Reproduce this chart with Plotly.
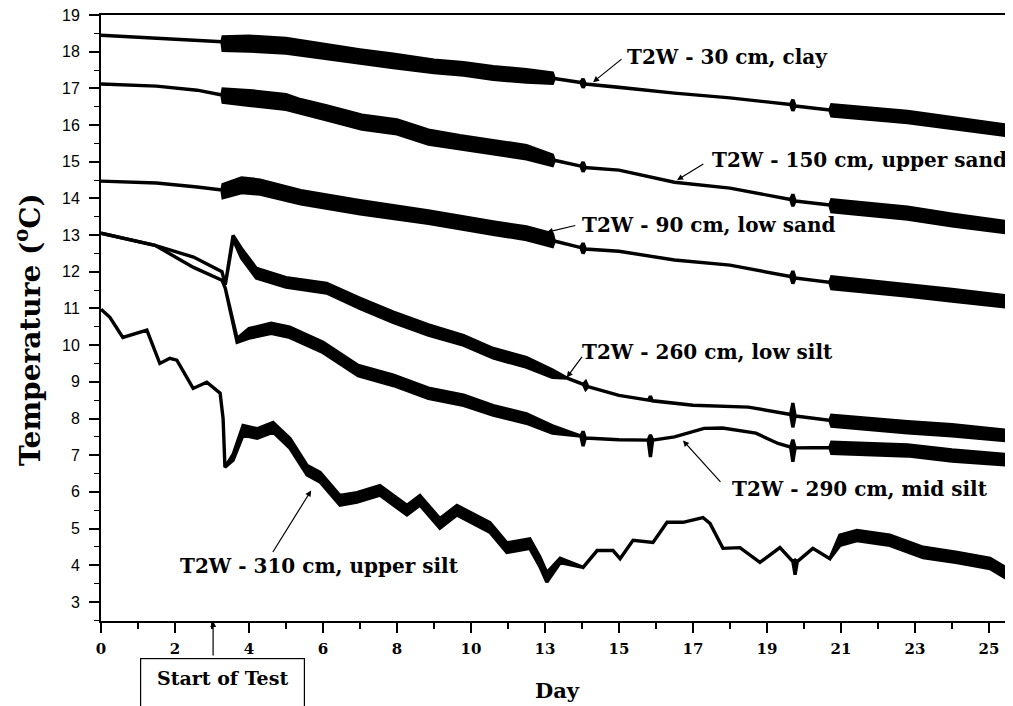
import plotly.graph_objects as go

# ---------------- data (x in axis day units, y in deg C, s = half width of noise band) -------------
x_clay = [0, 1.5, 3.27, 3.3, 4.0, 5.0, 6.1, 7.0, 7.9, 9.0, 9.8, 10.6, 11.5, 12.2,
          12.25, 12.97, 13.03, 13.09, 14.0, 15.5, 17.0, 18.64, 18.7, 18.76, 19.7,
          19.75, 21.8, 23.0, 24.65]
y_clay = [18.45, 18.37, 18.27, 18.22, 18.22, 18.16, 18.0, 17.87, 17.75, 17.6, 17.53, 17.42, 17.34, 17.28,
          17.27, 17.16, 17.14, 17.12, 17.03, 16.87, 16.74, 16.56, 16.54, 16.52, 16.41,
          16.4, 16.22, 16.05, 15.83]
s_clay = [0, 0, 0, 0.18, 0.2, 0.2, 0.18, 0.18, 0.18, 0.17, 0.17, 0.17, 0.17, 0.14,
          0, 0, 0.12, 0, 0, 0, 0, 0, 0.15, 0, 0,
          0.15, 0.15, 0.15, 0.14]

x_usand = [0, 1.5, 2.6, 3.27, 3.3, 4.0, 5.0, 5.4, 6.1, 7.05, 8.0, 8.85, 9.7, 10.6, 11.5, 12.2,
           12.25, 12.97, 13.03, 13.09, 14.0, 15.5, 17.0, 18.64, 18.7, 18.76, 19.7,
           19.75, 21.8, 23.0, 24.65]
y_usand = [17.12, 17.06, 16.95, 16.82, 16.8, 16.74, 16.63, 16.5, 16.33, 16.08, 15.95, 15.67, 15.53, 15.4, 15.26, 15.04,
           15.04, 14.88, 14.86, 14.84, 14.77, 14.44, 14.28, 13.97, 13.95, 13.93, 13.82,
           13.8, 13.6, 13.41, 13.19]
s_usand = [0, 0, 0, 0, 0.18, 0.2, 0.2, 0.19, 0.19, 0.19, 0.19, 0.19, 0.18, 0.18, 0.18, 0.14,
           0, 0, 0.13, 0, 0, 0, 0, 0, 0.16, 0, 0,
           0.16, 0.16, 0.16, 0.15]

x_lsand = [0, 1.5, 2.6, 3.27, 3.3, 3.8, 4.3, 5.4, 7.0, 8.85, 10.6, 11.5, 12.2,
           12.25, 12.97, 13.03, 13.09, 14.0, 15.5, 17.0, 18.64, 18.7, 18.76, 19.7,
           19.75, 21.8, 23.0, 24.65]
y_lsand = [14.47, 14.42, 14.31, 14.23, 14.2, 14.36, 14.31, 14.03, 13.76, 13.49, 13.19, 13.05, 12.86,
           12.84, 12.66, 12.64, 12.62, 12.56, 12.32, 12.18, 11.87, 11.85, 11.83, 11.71,
           11.7, 11.5, 11.36, 11.17]
s_lsand = [0, 0, 0, 0, 0.18, 0.2, 0.19, 0.18, 0.18, 0.17, 0.17, 0.17, 0.17,
           0, 0, 0.14, 0, 0, 0, 0, 0, 0.17, 0, 0,
           0.16, 0.16, 0.16, 0.15]

x_lsilt = [0, 1.46, 2.5, 3.27, 3.36, 3.57, 3.8, 4.2, 5.0, 6.1, 7.0, 7.9, 8.85, 9.8, 10.6, 11.5, 12.2,
           12.6, 13.04, 13.1, 13.16, 14.0, 14.8, 14.85, 14.9, 16.0, 17.5, 18.0, 18.64, 18.7, 18.76, 19.7,
           19.75, 21.8, 23.0, 24.65]
y_lsilt = [13.05, 12.72, 12.4, 12.0, 11.65, 12.94, 12.5, 11.96, 11.71, 11.55, 11.14, 10.76, 10.41, 10.13, 9.78, 9.53, 9.22,
           9.1, 8.93, 8.9, 8.87, 8.63, 8.5, 8.55, 8.48, 8.36, 8.31, 8.22, 8.11, 8.09, 8.07, 7.95,
           7.94, 7.76, 7.68, 7.52]
s_lsilt = [0, 0, 0, 0, 0, 0.05, 0.13, 0.13, 0.13, 0.13, 0.14, 0.14, 0.14, 0.13, 0.13, 0.13, 0.1,
           0, 0, 0.1, 0, 0, 0, 0.06, 0, 0, 0, 0, 0, 0.33, 0, 0,
           0.15, 0.15, 0.15, 0.14]

x_msilt = [0, 1.46, 2.5, 3.27, 3.36, 3.5, 3.68, 4.0, 4.6, 5.1, 6.0, 6.95, 7.9, 8.85, 9.8, 10.6, 11.5, 12.2,
           12.97, 13.03, 13.09, 14.0, 14.79, 14.85, 14.91, 15.5, 16.3, 16.8, 17.7, 18.3, 18.64, 18.7, 18.76, 19.7,
           19.75, 21.8, 23.0, 24.65]
y_msilt = [13.05, 12.72, 12.12, 11.77, 11.55, 10.95, 10.13, 10.32, 10.46, 10.35, 9.94, 9.31, 9.04, 8.69, 8.5, 8.22, 8.0, 7.7,
           7.52, 7.45, 7.47, 7.42, 7.41, 7.25, 7.41, 7.5, 7.73, 7.74, 7.6, 7.32, 7.22, 7.12, 7.2, 7.21,
           7.2, 7.13, 6.99, 6.86]
s_msilt = [0, 0, 0, 0, 0, 0, 0.05, 0.13, 0.14, 0.14, 0.14, 0.14, 0.14, 0.14, 0.14, 0.13, 0.13, 0.1,
           0, 0.2, 0, 0, 0, 0.3, 0, 0, 0, 0, 0, 0, 0, 0.3, 0, 0,
           0.15, 0.15, 0.15, 0.14]

x_usilt = [0, 0.24, 0.59, 0.97, 1.24, 1.59, 1.86, 2.05, 2.49, 2.86,
           3.22, 3.3, 3.35, 3.57, 3.84, 4.22, 4.65, 5.11, 5.57, 5.92,
           6.46, 6.92, 7.54, 8.27, 8.62, 9.16, 9.62, 10.51, 10.97, 11.59,
           11.86, 12.05, 12.41, 13.03, 13.41, 13.84, 14.03, 14.38, 14.92, 15.3,
           15.73, 16.27, 16.46, 16.81, 17.27, 17.81, 18.35, 18.7, 18.76, 18.82, 19.24, 19.7,
           19.97, 20.43, 21.32, 22.22, 23.14, 24.03, 24.65]
y_usilt = [10.98, 10.76, 10.21, 10.32, 10.41, 9.5, 9.64, 9.59, 8.82, 8.99,
           8.69, 8.0, 6.67, 6.94, 7.68, 7.59, 7.76, 7.32, 6.59, 6.4,
           5.77, 5.85, 6.04, 5.5, 5.77, 5.14, 5.5, 5.03, 4.48, 4.59,
           4.1, 3.67, 4.13, 3.94, 4.4, 4.4, 4.18, 4.68, 4.62, 5.17,
           5.17, 5.3, 5.14, 4.46, 4.48, 4.08, 4.48, 4.1, 3.94, 4.1, 4.46, 4.18,
           4.68, 4.81, 4.68, 4.35, 4.21, 4.05, 3.67]
s_usilt = [0, 0, 0, 0, 0, 0, 0, 0, 0, 0,
           0, 0, 0, 0.08, 0.13, 0.13, 0.13, 0.13, 0.13, 0.13,
           0.13, 0.13, 0.13, 0.13, 0.13, 0.13, 0.13, 0.13, 0.13, 0.13,
           0.13, 0.13, 0.06, 0, 0, 0, 0, 0, 0, 0,
           0, 0, 0, 0, 0, 0, 0, 0, 0.2, 0, 0, 0,
           0.14, 0.14, 0.14, 0.14, 0.14, 0.14, 0.14]

series = [
    ("T2W - 30 cm, clay", x_clay, y_clay, s_clay),
    ("T2W - 150 cm, upper sand", x_usand, y_usand, s_usand),
    ("T2W - 90 cm, low sand", x_lsand, y_lsand, s_lsand),
    ("T2W - 260 cm, low silt", x_lsilt, y_lsilt, s_lsilt),
    ("T2W - 290 cm, mid silt", x_msilt, y_msilt, s_msilt),
    ("T2W - 310 cm, upper silt", x_usilt, y_usilt, s_usilt),
]

# label placement: (text left x, text y, arrow tail x, tail y, arrow head x, head y)
labels = [
    (14.16, 17.85, 14.11, 17.83, 13.30, 17.17),
    (16.46, 15.04, 16.32, 14.96, 15.57, 14.50),
    (12.95, 13.27, 12.86, 13.27, 12.05, 13.08),
    (12.95, 9.80, 13.03, 9.72, 12.59, 9.12),
    (17.00, 6.09, 16.78, 6.23, 15.73, 7.40),
    (2.08, 3.99, 4.62, 4.32, 5.68, 6.04),
]

x_tickvals = [0, 2, 4, 6, 8, 10, 12, 14, 16, 18, 20, 22, 24]
x_ticktext = ["0", "2", "4", "6", "8", "10", "13", "15", "17", "19", "21", "23", "25"]
y_tickvals = list(range(3, 20))
start_of_test_day = 3.03

SERIF = "DejaVu Serif"

fig = go.Figure()
for name, xs, ys, ss in series:
    assert len(xs) == len(ys) == len(ss), name
    up = [a + b for a, b in zip(ys, ss)]
    lo = [a - b for a, b in zip(ys, ss)]
    fig.add_trace(go.Scatter(
        x=list(xs) + list(xs)[::-1], y=up + lo[::-1], mode="lines",
        fill="toself", fillcolor="black",
        line=dict(color="black", width=3.4), name=name,
        showlegend=False, hoverinfo="skip"))

for (name, *_), (tx, ty, ax, ay, hx, hy) in zip(series, labels):
    fig.add_annotation(x=tx, y=ty, text="<b>" + name + "</b>", showarrow=False,
                       xanchor="left", yanchor="middle",
                       font=dict(family=SERIF, size=20, color="black"))
    fig.add_annotation(x=hx, y=hy, ax=ax, ay=ay, axref="x", ayref="y", text="",
                       showarrow=True, arrowhead=2, arrowsize=1, arrowwidth=1.2,
                       arrowcolor="black")

# Start of Test box + arrow
fig.add_annotation(xref="paper", yref="paper", x=(222 - 101) / 912, y=(621 - 658) / 606,
                   xanchor="center", yanchor="top",
                   text="<b>Start of Test</b>", showarrow=False,
                   width=147, height=46, borderpad=8, bordercolor="black", borderwidth=1.2,
                   bgcolor="white", valign="top",
                   font=dict(family=SERIF, size=19, color="black"))
fig.add_annotation(x=start_of_test_day, y=0, xref="x", yref="paper", ax=0, ay=36,
                   text="", showarrow=True, arrowhead=2, arrowsize=1, arrowwidth=1.2,
                   arrowcolor="black")

# y-axis title placed as a rotated annotation
fig.add_annotation(xref="paper", yref="paper", x=(28 - 101) / 912, y=(621 - 330) / 606,
                   xanchor="center", yanchor="middle", textangle=-90, showarrow=False,
                   text="<b>Temperature (<sup>o</sup>C)</b>",
                   font=dict(family=SERIF, size=28, color="black"))

# page body has an 8px margin, so the figure is 8px smaller and margins shifted
fig.update_layout(
    width=1005, height=698,
    margin=dict(l=93, r=0, t=7, b=85),
    paper_bgcolor="white", plot_bgcolor="white",
    xaxis=dict(range=[0, 24.65], showline=True, linecolor="black", linewidth=2,
               mirror=True, showgrid=False, zeroline=False, automargin=False,
               tickmode="array", tickvals=x_tickvals, ticktext=x_ticktext,
               ticks="outside", ticklen=10, tickwidth=1.5, tickcolor="black",
               ticklabelstandoff=3, ticklabeloverflow="allow",
               tickfont=dict(family=SERIF, size=15, color="black", weight="bold"),
               minor=dict(dtick=1, ticks="outside", ticklen=6, tickwidth=1.5, tickcolor="black"),
               title=dict(text="<b>Day</b>", font=dict(family=SERIF, size=21, color="black"),
                          standoff=26)),
    yaxis=dict(range=[2.48, 19], showline=True, linecolor="black", linewidth=2,
               showgrid=False, zeroline=False, automargin=False,
               tickmode="array", tickvals=y_tickvals,
               ticks="outside", ticklen=10, tickwidth=1.5, tickcolor="black",
               ticklabelstandoff=6, ticklabeloverflow="allow",
               tickfont=dict(family="Liberation Sans", size=16, color="black"),
               minor=dict(dtick=0.5, ticks="outside", ticklen=5, tickwidth=1.2, tickcolor="black")),
)

fig.write_html("out.html")
